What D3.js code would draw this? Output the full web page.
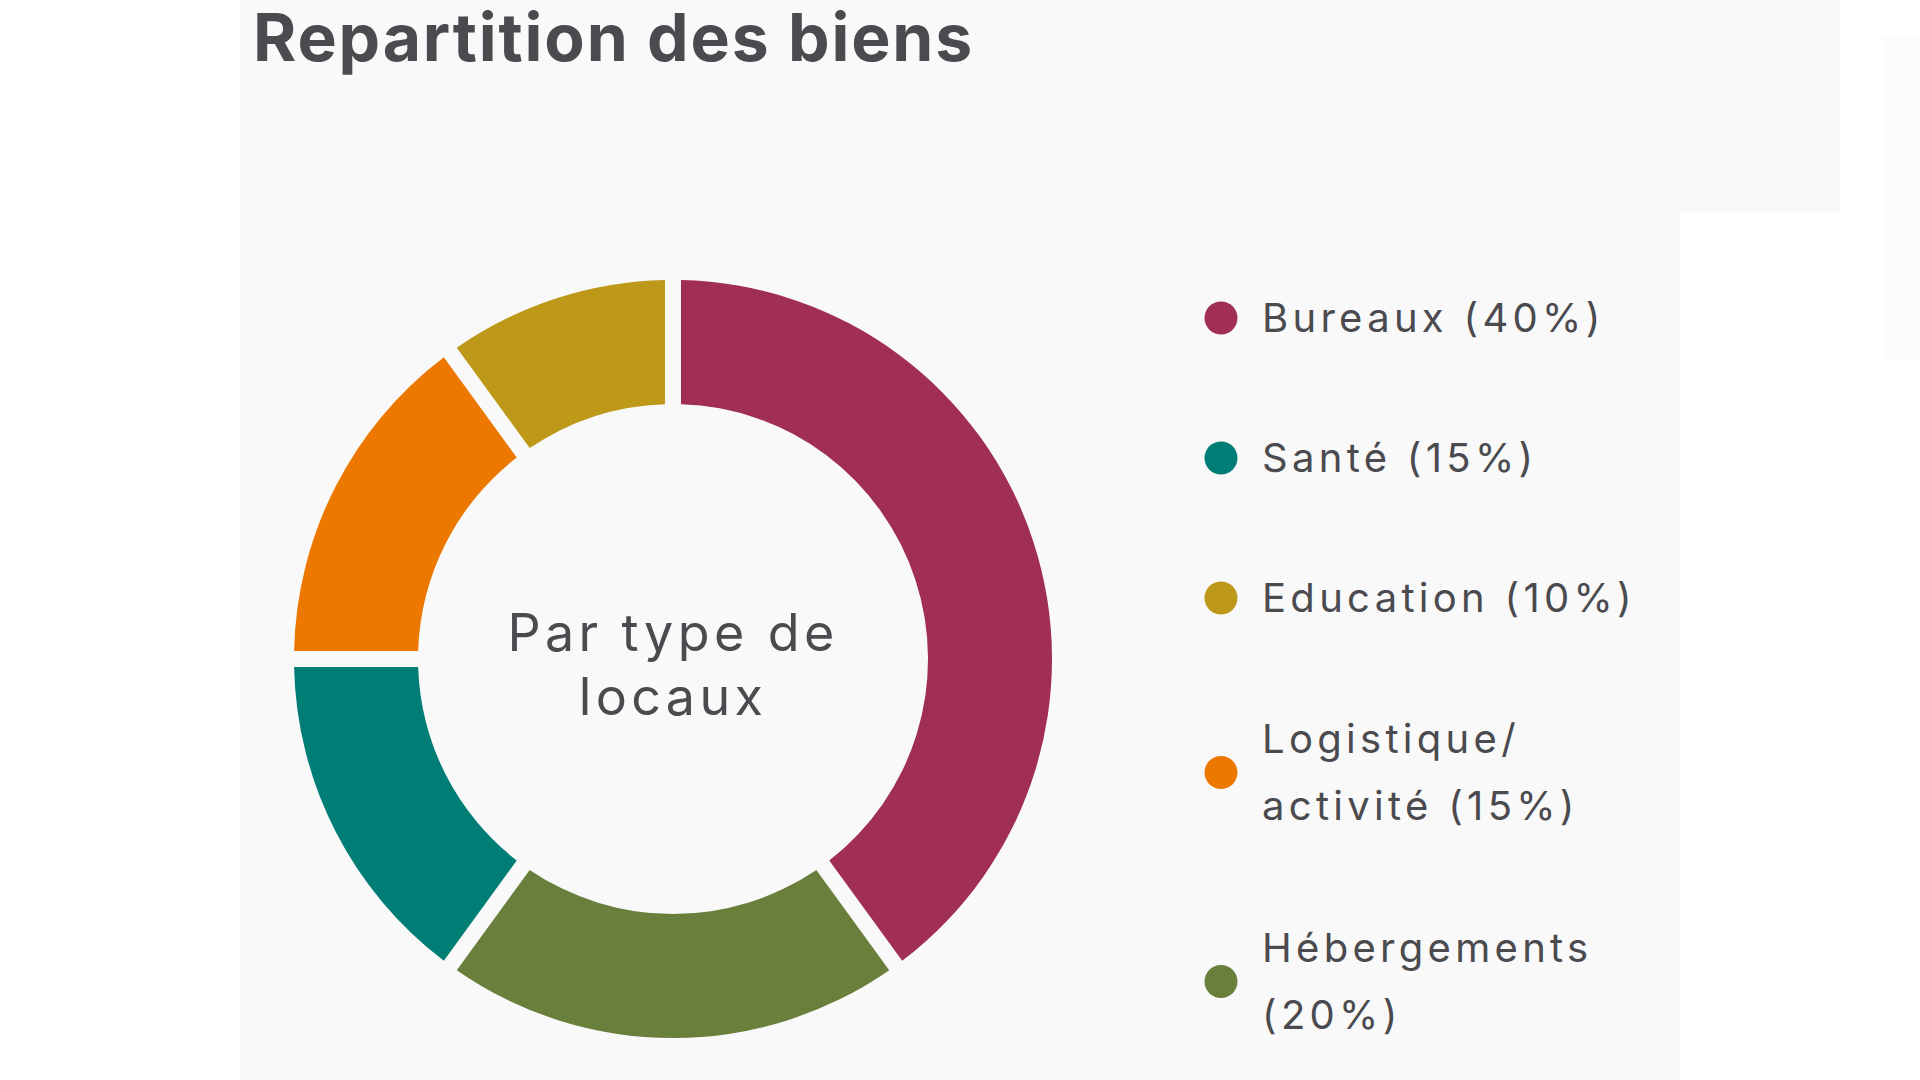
<!DOCTYPE html>
<html>
<head>
    <title>Repartition des biens</title>
    <script src="https://cdn.jsdelivr.net/npm/d3@7/dist/d3.min.js"></script>
    <style>
        body {
            margin: 0;
            background: #ffffff;
        }
        svg {
            display: block;
        }
        .title {
            font-family: Inter, Lato, sans-serif;
            font-weight: 700;
            fill: #4a4a4f;
        }
        .center-label, .legend-label {
            font-family: Inter, Lato, sans-serif;
            font-weight: 400;
            fill: #4a4a4f;
        }
    </style>
</head>
<body>
    <svg width="1920" height="1080"></svg>
    <script>
        // legend order
        const categories = ['Bureaux', 'Santé', 'Education', 'Logistique/activité', 'Hébergements'];
        const values = [40, 15, 10, 15, 20];
        const colors = ['#a02e56', '#007d74', '#be9919', '#ec7800', '#697f3b'];
        // clockwise order of the slices, starting at 12 o'clock
        const sliceOrder = ['Bureaux', 'Hébergements', 'Santé', 'Logistique/activité', 'Education'];
        const titleText = 'Repartition des biens';
        const centerLines = ['Par type de', 'locaux'];

        const svg = d3.select('svg');

        // panel background
        svg.append('rect').attr('x', 240).attr('y', 0).attr('width', 1600).attr('height', 212).attr('fill', '#f9f9f9');
        svg.append('rect').attr('x', 240).attr('y', 212).attr('width', 1440).attr('height', 868).attr('fill', '#f9f9f9');
        svg.append('rect').attr('x', 1882).attr('y', 37).attr('width', 38).attr('height', 323).attr('fill', '#fcfcfc');

        svg.append('text')
            .attr('class', 'title')
            .attr('x', 253)
            .attr('y', 61)
            .style('font-size', '66px')
            .style('letter-spacing', '1.85px')
            .text(titleText);

        const color = d3.scaleOrdinal().domain(categories).range(colors);
        const valueOf = d3.scaleOrdinal().domain(categories).range(values);

        const cx = 673, cy = 659;
        const outerR = 379, innerR = 255;
        const gap = 16;

        const pie = d3.pie()
            .sort(null)
            .value(d => valueOf(d));

        const arc = d3.arc()
            .innerRadius(innerR)
            .outerRadius(outerR)
            .padRadius(outerR)
            .padAngle(gap / outerR);

        const donutG = svg.append('g').attr('transform', `translate(${cx},${cy})`);

        donutG.selectAll('path')
            .data(pie(sliceOrder))
            .enter().append('path')
            .attr('d', arc)
            .attr('fill', d => color(d.data));

        donutG.append('text')
            .attr('class', 'center-label')
            .attr('text-anchor', 'middle')
            .style('font-size', '52px')
            .style('letter-spacing', '4.4px')
            .selectAll('tspan')
            .data(centerLines)
            .enter().append('tspan')
            .attr('x', 0)
            .attr('y', (d, i) => -8 + i * 64)
            .text(d => d);

        // legend
        const legendX = 1221;
        const textX = 1262;
        const textLineH = 67;   // spacing of wrapped lines
        const slotH = 69;       // height given to each line in the list
        const blockGap = 71;
        const maxW = 410;
        const legendTop = 318 - slotH / 2;

        const legendG = svg.append('g');

        const tokenize = s => s.split(/(?<=[\s\/])/);

        let yTop = legendTop;
        categories.forEach((c, i) => {
            const label = `${c} (${values[i]}%)`;
            const t = legendG.append('text')
                .attr('class', 'legend-label')
                .style('font-size', '40px')
                .style('letter-spacing', '4.3px');

            // wrap the label to the legend width
            const tokens = tokenize(label);
            const lines = [];
            let line = '';
            tokens.forEach(tok => {
                const test = line + tok;
                t.text(test.trimEnd());
                if (line && t.node().getComputedTextLength() > maxW) {
                    lines.push(line.trimEnd());
                    line = tok;
                } else {
                    line = test;
                }
            });
            lines.push(line.trimEnd());
            t.text(null);

            const blockH = lines.length * slotH;
            const mid = yTop + blockH / 2;

            t.selectAll('tspan')
                .data(lines)
                .enter().append('tspan')
                .attr('x', textX)
                .attr('y', (d, k) => mid + 14 + (k - (lines.length - 1) / 2) * textLineH)
                .text(d => d);

            legendG.append('circle')
                .attr('cx', legendX)
                .attr('cy', mid)
                .attr('r', 16.5)
                .attr('fill', color(c));

            yTop += blockH + blockGap;
        });
    </script>
</body>
</html>
